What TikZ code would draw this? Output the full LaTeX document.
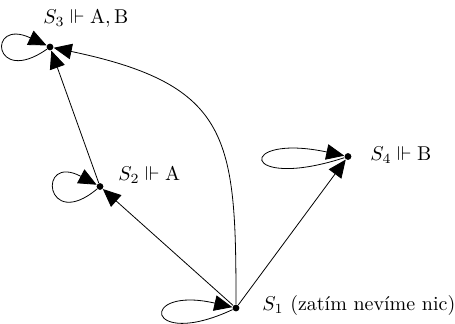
\documentclass[tikz,border=0pt]{standalone}
\usepackage{amssymb}
\usetikzlibrary{arrows.meta}
\begin{document}
\begin{tikzpicture}[x=0.5pt,y=0.5pt,
  dot/.style={circle,fill=black,inner sep=0pt,minimum size=3.4pt},
  arr/.style={-{Triangle[length=9pt,width=7.8pt]},line width=0.4pt},
  lab/.style={anchor=west,inner sep=0pt}]
\useasboundingbox (0,0) rectangle (455,323);
\node[dot] (s1) at (236,15) {};
\node[dot] (s2) at (100,136.5) {};
\node[dot] (s3) at (50,276) {};
\node[dot] (s4) at (348,166.5) {};
\node[lab] (l1) at (262,18) {$S_1$ (zatím nevíme nic)};
\node[lab] (l2) at (118,148) {$S_2 \Vdash \mathrm{A}$};
\node[lab] (l3) at (43,304) {$S_3 \Vdash \mathrm{A}, \mathrm{B}$};
\node[lab] (l4) at (370,168) {$S_4 \Vdash \mathrm{B}$};
\draw[arr] (s1) -- (s2);
\draw[arr] (s2) -- (s3);
\draw[arr] (s1) -- (s4);
\draw[arr] (s1) .. controls +(0,170) and +(181,-38) .. (s3);
\draw[arr] (s1) to[out=205,in=167,distance=48.5pt] (s1);
\draw[arr] (s2) to[out=220,in=152,distance=34pt] (s2);
\draw[arr] (s3) to[out=215,in=155,distance=33pt] (s3);
\draw[arr] (s4) to[out=198,in=168,distance=55.5pt] (s4);
\end{tikzpicture}
\end{document}
